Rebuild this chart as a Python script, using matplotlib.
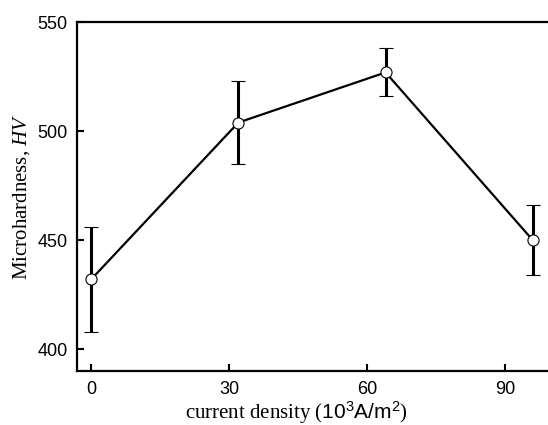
import matplotlib.pyplot as plt

plt.rcParams['mathtext.fontset'] = 'custom'
plt.rcParams['mathtext.rm'] = 'Liberation Sans'
plt.rcParams['mathtext.it'] = 'Liberation Serif:italic'

# données
density = [0, 32, 64, 96]
hardness = [432, 504, 527, 450]
err = [24, 19, 11, 16]
xticks = [0, 30, 60, 90]
yticks = [400, 450, 500, 550]

fig = plt.figure(figsize=(5.48, 4.25), dpi=100)
ax = fig.add_axes([77.3/548, 54/425, (554-77.3)/548, (371-22.3)/425])

ax.errorbar(density, hardness, yerr=err, color='black', lw=1.6, elinewidth=2.2,
            capsize=5, capthick=2.2, marker='o', ms=8, mfc='white', mec='black',
            mew=0.8, zorder=3)

ax.set_xlim(-3, 100.6)
ax.set_ylim(390, 550)
ax.set_xticks(xticks)
ax.set_yticks(yticks)
ax.tick_params(direction='in', length=5, width=1.5, labelsize=13, pad=7)
for lab in ax.get_xticklabels() + ax.get_yticklabels():
    lab.set_fontfamily('Liberation Sans')
for s in ax.spines.values():
    s.set_linewidth(1.6)
ax.spines['right'].set_visible(False)  # coupé dans l'image d'origine

ax.set_xlabel(r'current density ($\mathrm{10^3A/m^2}$)', family='Liberation Serif', fontsize=15)
ax.xaxis.set_label_coords(0.459, -0.08)
ax.set_ylabel(r'Microhardness, $\it{HV}$', family='Liberation Serif', fontsize=15, labelpad=4)

fig.savefig('out.png', dpi=100)
